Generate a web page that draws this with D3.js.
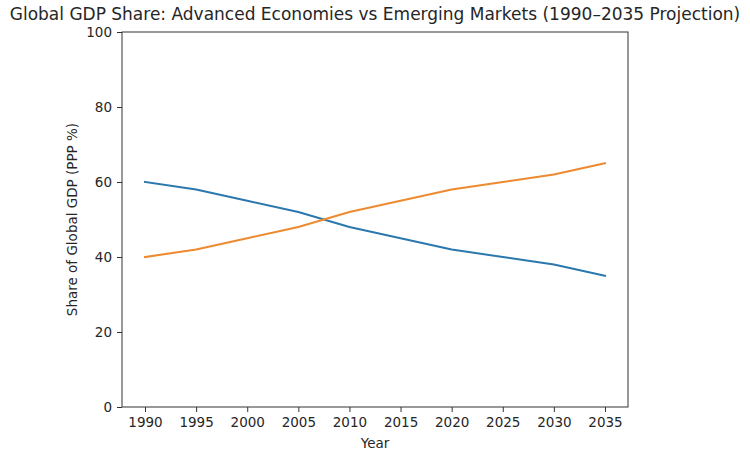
<!DOCTYPE html>
<html>
<head>
<meta charset="utf-8">
<script src="https://cdn.jsdelivr.net/npm/d3@7"></script>
<style>
  body { margin: 0; background: #fff; }
  text { font-family: "DejaVu Sans", sans-serif; fill: #262626; }
</style>
</head>
<body>
<div class="chart"></div>
<script>
const years = [1990, 1995, 2000, 2005, 2010, 2015, 2020, 2025, 2030, 2035];
const advanced = [60, 58, 55, 52, 48, 45, 42, 40, 38, 35];
const emerging = [40, 42, 45, 48, 52, 55, 58, 60, 62, 65];
const yTicks = [0, 20, 40, 60, 80, 100];

const width = 750;
const height = 462;
const margin = { top: 32, right: 122, bottom: 55, left: 122 };

const svg = d3
  .select(".chart")
  .append("svg")
  .attr("width", width)
  .attr("height", height);

const x = d3
  .scaleLinear()
  .domain([1990 - 2.25, 2035 + 2.25])
  .range([margin.left, width - margin.right]);

const y = d3
  .scaleLinear()
  .domain([0, 100])
  .range([height - margin.bottom, margin.top]);

function drawAxes() {
  let xAxis = svg
    .append("g")
    .attr("transform", `translate(0, ${height - margin.bottom})`)
    .call(d3.axisBottom(x).tickValues(years).tickFormat(d3.format("d")).tickSize(5).tickPadding(5));

  let yAxis = svg
    .append("g")
    .attr("transform", `translate(${margin.left}, 0)`)
    .call(d3.axisLeft(y).tickValues(yTicks).tickSize(5).tickPadding(5));

  [xAxis, yAxis].forEach((g) => {
    g.select(".domain").remove();
    g.selectAll("line").attr("stroke", "#333").attr("stroke-width", 1);
    g.selectAll("text").style("font-size", "13.5px").attr("fill", "#262626");
  });

  svg
    .append("rect")
    .attr("x", margin.left)
    .attr("y", margin.top)
    .attr("width", width - margin.left - margin.right)
    .attr("height", height - margin.top - margin.bottom)
    .attr("fill", "none")
    .attr("stroke", "#333")
    .attr("stroke-width", 1);
}

function drawLine(values, color) {
  const line = d3
    .line()
    .x((d, i) => x(years[i]))
    .y((d) => y(d));

  svg
    .append("path")
    .datum(values)
    .attr("d", line)
    .attr("fill", "none")
    .attr("stroke", color)
    .attr("stroke-width", 2)
    .attr("stroke-linejoin", "round")
    .attr("stroke-linecap", "square");
}

function drawText() {
  svg
    .append("text")
    .attr("x", 375)
    .attr("y", 20)
    .attr("text-anchor", "middle")
    .style("font-size", "17px")
    .text("Global GDP Share: Advanced Economies vs Emerging Markets (1990–2035 Projection)");

  svg
    .append("text")
    .attr("x", (margin.left + width - margin.right) / 2)
    .attr("y", 448)
    .attr("text-anchor", "middle")
    .style("font-size", "13.5px")
    .text("Year");

  svg
    .append("text")
    .attr("transform", `translate(77, ${(margin.top + height - margin.bottom) / 2}) rotate(-90)`)
    .attr("text-anchor", "middle")
    .style("font-size", "13.5px")
    .text("Share of Global GDP (PPP %)");
}

drawAxes();
drawLine(advanced, "#2a78ad");
drawLine(emerging, "#ed8a2f");
drawText();
</script>
</body>
</html>
